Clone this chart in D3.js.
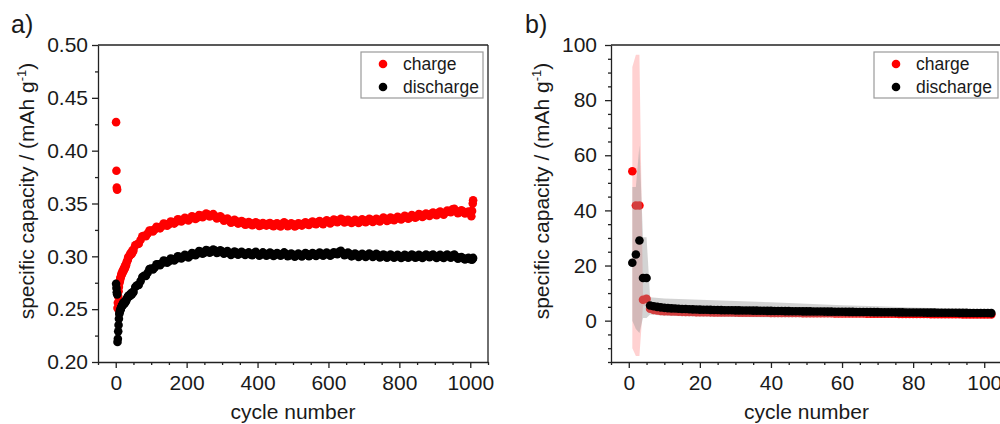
<!DOCTYPE html>
<html><head><meta charset="utf-8">
<script src="https://cdn.jsdelivr.net/npm/d3@7"></script>
<style>
html,body{margin:0;padding:0;background:#fff;}
svg{display:block;font-family:"Liberation Sans",Arial,sans-serif;}
</style></head>
<body><svg id="chart" width="1000" height="424"></svg>
<script>
// ---------- Panel a data ----------
const cycleA = [1,2,3,4,5,6,7,8,9,
 10,20,30,40,50,60,70,80,90,100,110,120,130,140,150,160,170,180,190,200,
 210,220,230,240,250,260,270,280,290,300,310,320,330,340,350,360,370,380,390,400,
 410,420,430,440,450,460,470,480,490,500,510,520,530,540,550,560,570,580,590,600,
 610,620,630,640,650,660,670,680,690,700,710,720,730,740,750,760,770,780,790,800,
 810,820,830,840,850,860,870,880,890,900,910,920,930,940,950,960,970,980,990,1000,
 1003,1005,1007,1008];
const chargeA = [0.427,0.381,0.365,0.363,0.251,0.256,0.262,0.267,0.271,
 0.2745,0.2855,0.2935,0.3015,0.3065,0.3115,0.3155,0.3195,0.3215,0.3245,0.3255,0.3275,0.3285,0.3305,0.3305,0.3325,0.3325,0.3345,0.3345,0.3355,
 0.3355,0.3372,0.3365,0.3385,0.3385,0.3395,0.3388,0.3382,0.3365,0.3362,0.3345,0.3342,0.3325,0.3335,0.3315,0.3325,0.3305,0.3315,0.3305,0.3312,
 0.3295,0.3305,0.3308,0.3295,0.3305,0.3292,0.3305,0.3308,0.3295,0.3302,0.3292,0.3305,0.3308,0.3305,0.3318,0.3312,0.3325,0.3315,0.3325,0.3328,
 0.3325,0.3342,0.3335,0.3345,0.3328,0.3335,0.3325,0.3335,0.3328,0.3342,0.3335,0.3345,0.3338,0.3345,0.3348,0.3355,0.3345,0.3358,0.3355,0.3365,
 0.3362,0.3375,0.3368,0.3382,0.3378,0.3392,0.3385,0.3395,0.3402,0.3398,0.3412,0.3405,0.3415,0.3422,0.3445,0.3428,0.3418,0.3425,0.3415,0.3405,
 0.338,0.343,0.350,0.353];
const dischargeA = [0.274,0.270,0.266,0.264,0.219,0.222,0.229,0.235,0.241,
 0.2455,0.2545,0.2585,0.2635,0.2665,0.2725,0.2765,0.2815,0.2845,0.2885,0.2895,0.2925,0.2935,0.2955,0.2955,0.2975,0.2975,0.2995,0.2995,0.3005,
 0.3005,0.3025,0.3025,0.3042,0.3035,0.3052,0.3045,0.3055,0.3038,0.3045,0.3035,0.3032,0.3025,0.3035,0.3025,0.3032,0.3025,0.3018,0.3032,0.3022,
 0.3018,0.3025,0.3015,0.3025,0.3012,0.3022,0.3018,0.3025,0.3008,0.3015,0.3008,0.3015,0.3012,0.3022,0.3012,0.3022,0.3015,0.3025,0.3018,0.3022,
 0.3018,0.3028,0.3042,0.3032,0.3018,0.3022,0.3008,0.3015,0.3005,0.3012,0.3008,0.3015,0.3005,0.3012,0.2998,0.3008,0.2998,0.3005,0.2998,0.3002,
 0.2995,0.3005,0.2998,0.3008,0.2995,0.3002,0.2998,0.3005,0.3008,0.2998,0.3002,0.2995,0.3005,0.2998,0.3008,0.2998,0.2985,0.2982,0.2978,0.2972,
 0.2975,0.2968,0.2978,0.2985];
// intermediate cycles (15, 25, ... 995)
const cycleA2 = [15,25,35,45,55,65,75,85,95,105,115,125,135,145,155,165,175,185,195,
 205,215,225,235,245,255,265,275,285,295,305,315,325,335,345,355,365,375,385,395,
 405,415,425,435,445,455,465,475,485,495,505,515,525,535,545,555,565,575,585,595,
 605,615,625,635,645,655,665,675,685,695,705,715,725,735,745,755,765,775,785,795,
 805,815,825,835,845,855,865,875,885,895,905,915,925,935,945,955,965,975,985,995];
const chargeA2 = [0.2815,0.2885,0.2990,0.3025,0.3105,0.3120,0.3190,0.3190,0.3245,0.3235,0.3280,0.3265,0.3310,0.3290,0.3330,0.3310,0.3350,0.3330,0.3365,
 0.3340,0.3378,0.3353,0.3390,0.3370,0.3405,0.3377,0.3400,0.3358,0.3378,0.3338,0.3358,0.3318,0.3345,0.3310,0.3335,0.3300,0.3325,0.3295,0.3323,
 0.3288,0.3315,0.3291,0.3316,0.3285,0.3313,0.3283,0.3321,0.3286,0.3313,0.3282,0.3313,0.3291,0.3321,0.3296,0.3330,0.3303,0.3335,0.3305,0.3341,
 0.3311,0.3348,0.3323,0.3355,0.3321,0.3346,0.3315,0.3345,0.3316,0.3350,0.3323,0.3355,0.3326,0.3356,0.3331,0.3366,0.3335,0.3366,0.3341,0.3375,
 0.3348,0.3383,0.3356,0.3390,0.3365,0.3400,0.3373,0.3405,0.3383,0.3415,0.3390,0.3423,0.3395,0.3433,0.3418,0.3451,0.3408,0.3436,0.3405,0.3425];
const dischargeA2 = [0.2510,0.2555,0.2625,0.2640,0.2710,0.2730,0.2805,0.2815,0.2880,0.2875,0.2925,0.2915,0.2960,0.2940,0.2980,0.2960,0.3000,0.2980,0.3015,
 0.2990,0.3030,0.3010,0.3049,0.3024,0.3059,0.3034,0.3065,0.3032,0.3057,0.3025,0.3049,0.3014,0.3045,0.3015,0.3044,0.3014,0.3037,0.3010,0.3042,
 0.3005,0.3037,0.3005,0.3035,0.3004,0.3032,0.3005,0.3037,0.3002,0.3027,0.2997,0.3027,0.2999,0.3032,0.3002,0.3032,0.3004,0.3035,0.3007,0.3035,
 0.3005,0.3038,0.3020,0.3052,0.3010,0.3035,0.3000,0.3027,0.2995,0.3024,0.2995,0.3027,0.2995,0.3024,0.2990,0.3018,0.2988,0.3017,0.2987,0.3015,
 0.2984,0.3015,0.2987,0.3018,0.2987,0.3014,0.2985,0.3017,0.2992,0.3018,0.2985,0.3014,0.2985,0.3017,0.2988,0.3018,0.2977,0.2994,0.2970,0.2985];
// extra early cycles (steep rise)
const cycleA3 = [11,12,13,14,16,17,18,19,21,22,23,24,26,27,28,29,32,34,37,39,42,44,47,49];
const chargeA3 = [0.2765,0.2772,0.2795,0.2800,0.2830,0.2828,0.2850,0.2842,0.2870,0.2862,0.2885,0.2878,
 0.2905,0.2898,0.2920,0.2915,0.2955,0.2965,0.2995,0.3005,0.3030,0.3020,0.3055,0.3045];
const dischargeA3 = [0.2470,0.2485,0.2490,0.2505,0.2520,0.2528,0.2540,0.2535,0.2555,0.2548,0.2565,0.2558,
 0.2572,0.2565,0.2582,0.2578,0.2605,0.2615,0.2628,0.2622,0.2645,0.2638,0.2660,0.2655];

// ---------- Panel b data ----------
const cycleB = [1,2,3,4,5,6,7,8,9,10,11,12,13,14,15,16,17,18,19,20,
 21,22,23,24,25,26,27,28,29,30,31,32,33,34,35,36,37,38,39,40,
 41,42,43,44,45,46,47,48,49,50,51,52,53,54,55,56,57,58,59,60,
 61,62,63,64,65,66,67,68,69,70,71,72,73,74,75,76,77,78,79,80,
 81,82,83,84,85,86,87,88,89,90,91,92,93,94,95,96,97,98,99,100,101,102];
const chargeB = [54.2,41.8,41.8,7.6,7.9,4.3,3.9,3.7,3.55,3.45,3.4,3.35,3.3,3.25,3.2,3.18,3.15,3.12,3.1,3.08,
 3.06,3.04,3.02,3.0,2.99,2.98,2.96,2.95,2.94,2.93,2.92,2.91,2.9,2.89,2.88,2.87,2.86,2.85,2.84,2.83,
 2.82,2.81,2.8,2.79,2.78,2.77,2.76,2.75,2.74,2.73,2.72,2.71,2.7,2.69,2.68,2.67,2.66,2.65,2.64,2.63,
 2.62,2.61,2.6,2.59,2.58,2.57,2.56,2.55,2.54,2.53,2.52,2.51,2.5,2.49,2.48,2.47,2.46,2.45,2.44,2.43,
 2.42,2.41,2.4,2.39,2.38,2.37,2.36,2.35,2.34,2.33,2.32,2.31,2.3,2.29,2.28,2.27,2.26,2.25,2.24,2.23,2.22,2.21];
const dischargeB = [21.0,24.0,29.1,15.5,15.5,5.5,5.2,5.0,4.8,4.65,4.55,4.45,4.4,4.3,4.25,4.2,4.15,4.1,4.05,4.0,
 3.97,3.94,3.91,3.88,3.85,3.82,3.8,3.78,3.76,3.74,3.72,3.7,3.68,3.66,3.64,3.62,3.6,3.58,3.56,3.54,
 3.52,3.5,3.49,3.47,3.45,3.43,3.42,3.4,3.38,3.37,3.35,3.34,3.32,3.31,3.29,3.28,3.26,3.25,3.23,3.22,
 3.2,3.19,3.17,3.16,3.15,3.13,3.12,3.11,3.09,3.08,3.07,3.05,3.04,3.03,3.02,3.0,2.99,2.98,2.97,2.96,
 2.95,2.94,2.93,2.92,2.91,2.9,2.89,2.88,2.87,2.86,2.85,2.84,2.83,2.82,2.81,2.8,2.79,2.78,2.77,2.76,2.75,2.74];
// error bands (spread) in panel b
const chargeBandCycle = [1,2,3,4,5,6];
const chargeBandUpper = [92,96.5,96.5,9.5,9.5,5.5];
const chargeBandLower = [-10,-12.8,-12.8,5.5,5.5,2.5];
const dischargeBandCycle = [1,2,3,4,5,6,10,20,30,40,50,60,70,80,90,102];
const dischargeBandUpper = [48.5,48.5,63.6,30.3,30.3,8.5,8.0,7.6,7.1,6.7,6.1,5.6,5.2,4.8,4.4,4.0];
const dischargeBandLower = [0,-3,-4.5,1.0,1.0,2.2,1.8,1.5,1.3,1.2,1.2,1.3,1.4,1.5,1.7,1.8];

// ---------- axis ticks ----------
const ticksAx = [0,200,400,600,800,1000];
const ticksAy = [0.20,0.25,0.30,0.35,0.40,0.45,0.50];
const ticksBx = [0,20,40,60,80,100];
const ticksBy = [0,20,40,60,80,100];
const seriesNames = ["charge","discharge"];
const seriesColors = ["#ff0000","#000000"];

const svg = d3.select("#chart");
const axisColor = "#222";

function drawFrame(x, y, majX, minXStep, majY, minYStep, fmtY, labelGapY) {
  const [x0,x1] = x.range(), [y0,y1] = y.range();
  const g = svg.append("g");
  const xd = x.domain(), yd = y.domain();
  const minX = d3.range(Math.ceil(xd[0]/minXStep)*minXStep, xd[1]+1e-9, minXStep).filter(v=>!majX.some(m=>Math.abs(m-v)<1e-9));
  const minY = d3.range(Math.ceil((yd[0]-1e-9)/minYStep)*minYStep, yd[1]+1e-9, minYStep).filter(v=>!majY.some(m=>Math.abs(m-v)<1e-9));
  const bx = g.append("g").attr("transform",`translate(0,${y0})`)
    .call(d3.axisBottom(x).tickValues(majX).tickSize(6).tickSizeOuter(0).tickPadding(4).tickFormat(d3.format("d")));
  bx.selectAll("text").attr("font-size",21).attr("fill","#1a1a1a").attr("dy","0.85em");
  g.append("g").attr("transform",`translate(0,${y0})`)
    .call(d3.axisBottom(x).tickValues(minX).tickSize(3).tickSizeOuter(0).tickFormat(""))
    .select(".domain").remove();
  const ly = g.append("g").attr("transform",`translate(${x0},0)`)
    .call(d3.axisLeft(y).tickValues(majY).tickSize(6).tickSizeOuter(0).tickPadding(labelGapY).tickFormat(fmtY));
  ly.selectAll("text").attr("font-size",21).attr("fill","#1a1a1a");
  g.append("g").attr("transform",`translate(${x0},0)`)
    .call(d3.axisLeft(y).tickValues(minY).tickSize(3).tickSizeOuter(0).tickFormat(""))
    .select(".domain").remove();
  g.selectAll("path.domain, line").attr("stroke",axisColor).attr("stroke-width",1.3);
  g.append("line").attr("x1",x0).attr("x2",x1).attr("y1",y1).attr("y2",y1).attr("stroke",axisColor).attr("stroke-width",1.3);
  g.append("line").attr("x1",x1).attr("x2",x1).attr("y1",y1).attr("y2",y0).attr("stroke",axisColor).attr("stroke-width",1.3);
}

function titles(cx, xBase, yTitleX, yTitleY) {
  svg.append("text").attr("x",cx).attr("y",xBase).attr("text-anchor","middle")
    .attr("font-size",21).attr("fill","#1a1a1a").text("cycle number");
  const t = svg.append("text").attr("transform",`translate(${yTitleX},${yTitleY}) rotate(-90)`)
    .attr("text-anchor","middle").attr("font-size",21).attr("fill","#1a1a1a");
  t.append("tspan").text("specific capacity / (mAh g");
  t.append("tspan").attr("dy",-8).attr("font-size",13).text("-1");
  t.append("tspan").attr("dy",8).text(")");
}

function legend(x0, y0, w, h) {
  const g = svg.append("g");
  g.append("rect").attr("x",x0).attr("y",y0).attr("width",w).attr("height",h)
    .attr("fill","#fff").attr("stroke","#9a9a9a").attr("stroke-width",1.2);
  seriesNames.forEach((n,i)=>{
    g.append("circle").attr("cx",x0+22).attr("cy",y0+12+i*23).attr("r",4.3).attr("fill",seriesColors[i]);
    g.append("text").attr("x",x0+42).attr("y",y0+12+i*23).attr("dy","0.36em")
      .attr("font-size",17.5).attr("fill","#1a1a1a").text(n);
  });
}

function dots(g, cls, xs, ys, x, y, color) {
  g.selectAll("circle."+cls).data(xs).join("circle").attr("class",cls)
    .attr("cx",d=>x(d)).attr("cy",(d,i)=>y(ys[i])).attr("r",4.3).attr("fill",color);
}

// ===== Panel a =====
const xa = d3.scaleLinear().domain([-50,1050]).range([98,488]);
const ya = d3.scaleLinear().domain([0.2,0.5]).range([362,45]);
const ga = svg.append("g");
dots(ga,"c1",cycleA,chargeA,xa,ya,seriesColors[0]);
dots(ga,"c2",cycleA2,chargeA2,xa,ya,seriesColors[0]);
dots(ga,"c3",cycleA3,chargeA3,xa,ya,seriesColors[0]);
dots(ga,"d1",cycleA,dischargeA,xa,ya,seriesColors[1]);
dots(ga,"d2",cycleA2,dischargeA2,xa,ya,seriesColors[1]);
dots(ga,"d3",cycleA3,dischargeA3,xa,ya,seriesColors[1]);
drawFrame(xa, ya, ticksAx, 50, ticksAy, 0.025, d3.format(".2f"), 4);
titles(293, 419, 34, 191);
legend(361, 52, 122, 46);
svg.append("text").attr("x",11).attr("y",33).attr("font-size",25).attr("fill","#1a1a1a").text("a)");

// ===== Panel b =====
const xb = d3.scaleLinear().domain([-5,105]).range([611,1002]);
const yb = d3.scaleLinear().domain([-15,100]).range([362,45]);
const gb = svg.append("g");
const areaC = d3.area().x((d,i)=>xb(chargeBandCycle[i])).y0((d,i)=>yb(chargeBandLower[i])).y1((d,i)=>yb(chargeBandUpper[i]));
gb.append("path").datum(chargeBandCycle).attr("d",areaC).attr("fill","rgba(255,0,0,0.18)");
dots(gb,"c",cycleB,chargeB,xb,yb,seriesColors[0]);
const areaD = d3.area().x((d,i)=>xb(dischargeBandCycle[i])).y0((d,i)=>yb(dischargeBandLower[i])).y1((d,i)=>yb(dischargeBandUpper[i]));
gb.append("path").datum(dischargeBandCycle).attr("d",areaD).attr("fill","rgba(150,150,150,0.42)");
dots(gb,"d",cycleB,dischargeB,xb,yb,seriesColors[1]);
drawFrame(xb, yb, ticksBx, 5, ticksBy, 5, d3.format("d"), 8);
titles(806.5, 419, 549, 191);
legend(874, 52, 124, 46);
svg.append("text").attr("x",525).attr("y",33).attr("font-size",25).attr("fill","#1a1a1a").text("b)");
</script></body></html>
